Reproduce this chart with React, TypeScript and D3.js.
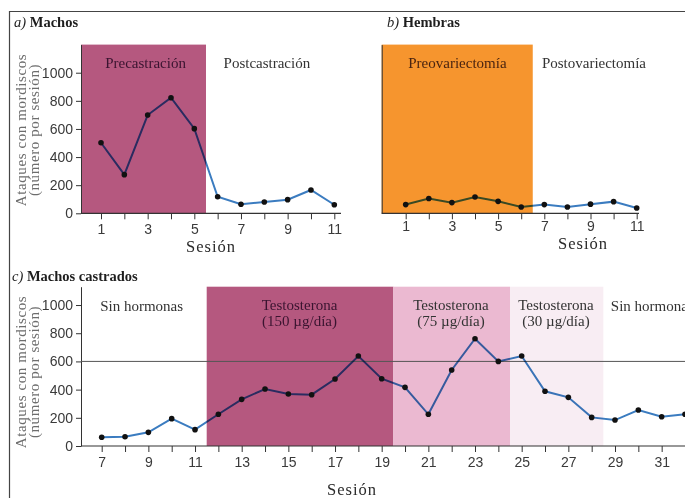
import * as d3 from "d3";
import { useEffect, useRef } from "react";

const W = 685;
const H = 498;

// sesiones y ataques con mordiscos por sesión
const sesionesAB = [1, 2, 3, 4, 5, 6, 7, 8, 9, 10, 11];
const machos = [502, 275, 699, 822, 602, 118, 64, 80, 97, 166, 61];
const hembras = [62, 105, 76, 116, 85, 45, 62, 45, 65, 83, 38];

const sesionesC = [7, 8, 9, 10, 11, 12, 13, 14, 15, 16, 17, 18, 19, 20, 21, 22, 23, 24, 25, 26, 27, 28, 29, 30, 31, 32];
const castrados = [62, 66, 97, 194, 116, 225, 331, 404, 369, 364, 475, 638, 477, 416, 225, 539, 761, 600, 638, 388, 345, 203, 184, 255, 208, 225];

const yTicks = [0, 200, 400, 600, 800, 1000];
const referenciaC = 600;

// fases (en sesiones); null = desde el eje
const fasesA = [{ desde: null, hasta: 5.5 }];
const fasesB = [{ desde: null, hasta: 6.5 }];
const fasesC = [
    { desde: 11.5, hasta: 19.5 },
    { desde: 19.5, hasta: 24.5 },
    { desde: 24.5, hasta: 28.5 },
];

const etiquetasA = ["Precastración", "Postcastración"];
const etiquetasB = ["Preovariectomía", "Postovariectomía"];
const etiquetasC = [
    ["Sin hormonas"],
    ["Testosterona", "(150 µg/día)"],
    ["Testosterona", "(75 µg/día)"],
    ["Testosterona", "(30 µg/día)"],
    ["Sin hormonas"],
];

const serif = "'Liberation Serif', 'Times New Roman', serif";
const sans = "'Liberation Sans', Arial, sans-serif";

const rosa = "#b5587f";
const naranja = "#f6952e";
const rosaClaro = "#ebb9d1";
const rosaPalido = "#f8edf3";
const azul = "#3b7cc0";

const drawPanel = (svg, o) => {
    const g = svg.append("g");
    const { x, y, axisX, axisEnd } = o;
    const y0 = y(0);
    const yTop = y.range()[1];

    // zonas sombreadas
    g.selectAll("rect.fase")
        .data(o.fases)
        .join("rect")
        .attr("x", d => d.desde == null ? axisX : x(d.desde))
        .attr("width", d => x(d.hasta) - (d.desde == null ? axisX : x(d.desde)))
        .attr("y", yTop)
        .attr("height", y0 - yTop)
        .attr("fill", (d, i) => o.colores[i]);

    // eje y
    const yAxis = d3.axisLeft(y)
        .tickValues(o.conEtiquetasY ? yTicks : [])
        .tickFormat(d3.format("d"))
        .tickSize(5).tickPadding(3).tickSizeOuter(0);
    const gy = g.append("g")
        .attr("transform", `translate(${axisX},0)`)
        .call(yAxis)
        .attr("font-family", sans)
        .attr("font-size", 14);
    gy.select(".domain").attr("stroke", "#333");
    gy.selectAll(".tick line").attr("stroke", "#333");
    gy.selectAll(".tick text").attr("fill", "#3a3a3a");

    // eje x
    const xAxis = d3.axisBottom(x)
        .tickValues(o.sesiones)
        .tickFormat(d => (d % 2 === 1 ? d : ""))
        .tickSize(6).tickPadding(o.padX).tickSizeOuter(0);
    const gx = g.append("g")
        .attr("transform", `translate(0,${y0})`)
        .call(xAxis)
        .attr("font-family", sans)
        .attr("font-size", 14);
    gx.select(".domain").remove();
    gx.selectAll(".tick line").attr("stroke", "#333");
    gx.selectAll(".tick text").attr("fill", "#3a3a3a");
    g.append("line")
        .attr("x1", axisX).attr("x2", axisEnd)
        .attr("y1", y0).attr("y2", y0)
        .attr("stroke", "#333").attr("stroke-width", 1.2);

    if (o.referencia != null) {
        g.append("line")
            .attr("x1", axisX).attr("x2", axisEnd)
            .attr("y1", y(o.referencia)).attr("y2", y(o.referencia))
            .attr("stroke", "#555").attr("stroke-width", 1);
    }

    // serie
    const line = d3.line()
        .x((d, i) => x(o.sesiones[i]))
        .y(d => y(d));
    g.append("path")
        .datum(o.valores)
        .attr("d", line)
        .attr("fill", "none")
        .attr("stroke", azul)
        .attr("stroke-width", 2)
        .style("mix-blend-mode", "multiply");
    g.selectAll("circle")
        .data(o.valores)
        .join("circle")
        .attr("cx", (d, i) => x(o.sesiones[i]))
        .attr("cy", d => y(d))
        .attr("r", 2.8)
        .attr("fill", "#111");

    // etiquetas de fase
    o.etiquetas.forEach((lab, i) => {
        const p = o.posEtiquetas[i];
        const t = g.append("text")
            .attr("x", x(p.s))
            .attr("y", p.y)
            .attr("text-anchor", p.anchor || "middle")
            .attr("font-family", serif)
            .attr("font-size", 15)
            .attr("fill", p.color);
        const lines = Array.isArray(lab) ? lab : [lab];
        lines.forEach((l, k) => {
            t.append("tspan")
                .attr("x", x(p.s))
                .attr("dy", k === 0 ? 0 : 16)
                .text(l);
        });
    });

    // título
    const tt = g.append("text")
        .attr("x", o.titulo.x).attr("y", o.titulo.y)
        .attr("font-family", serif).attr("font-size", 14.5)
        .attr("fill", "#1e1e1e");
    tt.append("tspan").attr("font-style", "italic").text(o.titulo.letra);
    tt.append("tspan").attr("font-weight", "bold").text(" " + o.titulo.texto);

    // título eje y
    if (o.conEtiquetasY) {
        [["Ataques con mordiscos", 20.5], ["(número por sesión)", 33.5]].forEach(([txt, cx]) => {
            g.append("text")
                .attr("transform", `translate(${cx},${o.yLabelCy}) rotate(-90)`)
                .attr("dy", "0.35em")
                .attr("text-anchor", "middle")
                .attr("font-family", serif)
                .attr("font-size", 15)
                .attr("letter-spacing", 0.6)
                .attr("fill", "#6d6d6d")
                .text(txt);
        });
    }

    g.append("text")
        .attr("x", o.sesionLabel.x).attr("y", o.sesionLabel.y)
        .attr("text-anchor", "middle")
        .attr("font-family", serif).attr("font-size", 16.5)
        .attr("letter-spacing", 1)
        .attr("fill", "#2a2a2a")
        .text("Sesión");
};

const App = () => {
    const ref = useRef(null);

    useEffect(() => {
        const svg = d3.select(ref.current);
        svg.selectAll("*").remove();

        svg.append("rect").attr("width", W).attr("height", H).attr("fill", "#fff");

        // a) Machos
        const xA = d3.scaleLinear().domain([1, 11]).range([101, 334.3]);
        const yA = d3.scaleLinear().domain([0, 1200]).range([213.3, 44.6]);
        drawPanel(svg, {
            x: xA, y: yA, axisX: 81, axisEnd: 341, padX: 5,
            sesiones: sesionesAB, valores: machos,
            fases: fasesA, colores: [rosa],
            etiquetas: etiquetasA,
            posEtiquetas: [
                { s: 2.91, y: 68, color: "#3a1430" },
                { s: 8.11, y: 68, color: "#333" },
            ],
            conEtiquetasY: true,
            yLabelCy: 130,
            titulo: { x: 14, y: 27, letra: "a)", texto: "Machos" },
            sesionLabel: { x: 211, y: 252 },
        });

        // b) Hembras
        const xB = d3.scaleLinear().domain([1, 11]).range([405.7, 636.7]);
        const yB = d3.scaleLinear().domain([0, 1200]).range([213.3, 44.6]);
        drawPanel(svg, {
            x: xB, y: yB, axisX: 381.7, axisEnd: 639, padX: 2,
            sesiones: sesionesAB, valores: hembras,
            fases: fasesB, colores: [naranja],
            etiquetas: etiquetasB,
            posEtiquetas: [
                { s: 3.24, y: 68, color: "#4a2410" },
                { s: 9.15, y: 68, color: "#333" },
            ],
            conEtiquetasY: false,
            titulo: { x: 387, y: 27, letra: "b)", texto: "Hembras" },
            sesionLabel: { x: 583, y: 249 },
        });

        // c) Machos castrados
        const xC = d3.scaleLinear().domain([7, 32]).range([101.7, 685]);
        const yC = d3.scaleLinear().domain([0, 1130]).range([446, 286.7]);
        drawPanel(svg, {
            x: xC, y: yC, axisX: 81, axisEnd: 685, padX: 5,
            sesiones: sesionesC, valores: castrados,
            fases: fasesC, colores: [rosa, rosaClaro, rosaPalido],
            referencia: referenciaC,
            etiquetas: etiquetasC,
            posEtiquetas: [
                { s: 8.71, y: 311, color: "#333" },
                { s: 15.48, y: 310, color: "#3a1430" },
                { s: 21.97, y: 310, color: "#333" },
                { s: 26.47, y: 310, color: "#333" },
                { s: 28.82, y: 311, color: "#333", anchor: "start" },
            ],
            conEtiquetasY: true,
            yLabelCy: 372,
            titulo: { x: 12, y: 281, letra: "c)", texto: "Machos castrados" },
            sesionLabel: { x: 352, y: 495 },
        });

        // marco
        svg.append("line").attr("x1", 9).attr("x2", W).attr("y1", 11.5).attr("y2", 11.5)
            .attr("stroke", "#444").attr("stroke-width", 1.2);
        svg.append("line").attr("x1", 9.5).attr("x2", 9.5).attr("y1", 11).attr("y2", H)
            .attr("stroke", "#444").attr("stroke-width", 1.2);
    }, []);

    return (
        <svg
            ref={ref}
            width={W}
            height={H}
            style={{ position: "absolute", left: 0, top: 0, display: "block" }}
        />
    );
};

export default App;
